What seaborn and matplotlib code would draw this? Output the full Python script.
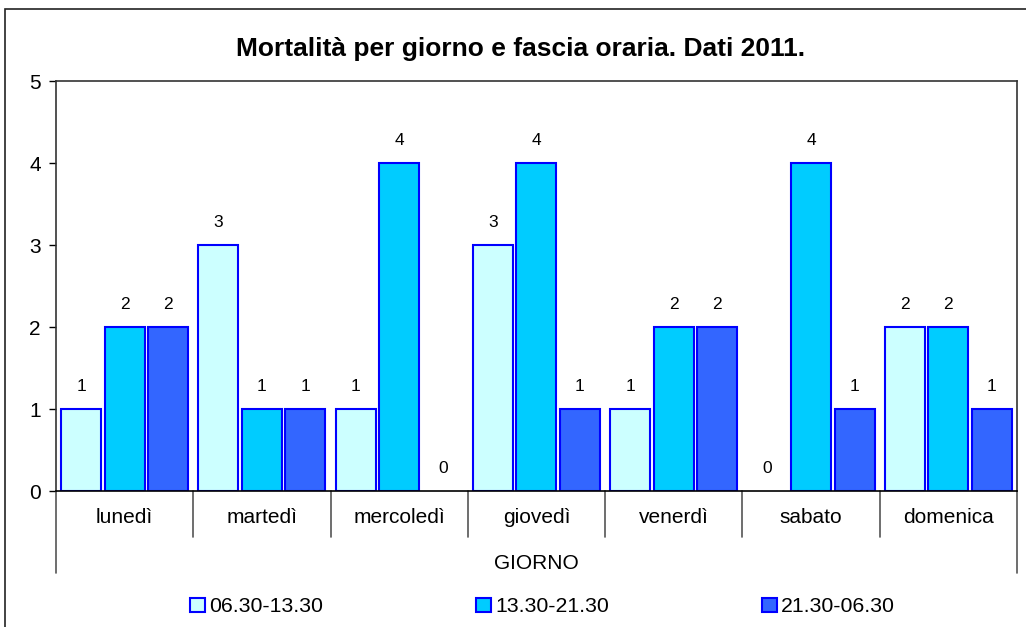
import matplotlib
matplotlib.use("Agg")
import matplotlib.pyplot as plt
import pandas as pd
import seaborn as sns
from matplotlib.patches import Rectangle

giorni = ["lunedì", "martedì", "mercoledì", "giovedì", "venerdì", "sabato", "domenica"]
fasce = ["06.30-13.30", "13.30-21.30", "21.30-06.30"]
mattina = [1, 3, 1, 3, 1, 0, 2]
pomeriggio = [2, 1, 4, 4, 2, 4, 2]
notte = [2, 1, 0, 1, 2, 1, 1]
colori = ["#CCFFFF", "#00CCFF", "#3366FF"]

df = pd.DataFrame({
    "giorno": giorni * 3,
    "fascia": [fasce[0]] * 7 + [fasce[1]] * 7 + [fasce[2]] * 7,
    "morti": mattina + pomeriggio + notte,
})

sns.set_style("white", {"text.color": "black", "axes.labelcolor": "black",
                        "xtick.color": "black", "ytick.color": "black"})
plt.rcParams["font.family"] = ["Liberation Sans", "DejaVu Sans"]

fig = plt.figure(figsize=(10.26, 6.27), dpi=100)
ax = fig.add_axes([0.0546, 0.2169, 0.9366, 0.6539])

sns.barplot(data=df, x="giorno", y="morti", hue="fascia", order=giorni,
            hue_order=fasce, palette=colori, edgecolor="#0000FF", linewidth=1.5,
            width=0.95, gap=0.08, saturation=1, ax=ax, legend=False)

# Excel non disegna le barre a zero
for bar in ax.patches:
    if bar.get_height() == 0:
        bar.set_linewidth(0)

for cont in ax.containers:
    ax.bar_label(cont, fmt="%d", padding=11, fontsize=12.5, color="black")

ax.set_xlim(-0.5, 6.5)
ax.set_ylim(0, 5)
ax.set_yticks(range(6))
ax.tick_params(axis="y", labelsize=15, length=5, width=1, direction="out", left=True, pad=6)
ax.tick_params(axis="x", labelsize=15, length=0, pad=12)
ax.set_ylabel("")
ax.set_xlabel("GIORNO", fontsize=15, labelpad=20)

for side in ["top", "right"]:
    ax.spines[side].set_visible(True)
for s in ax.spines.values():
    s.set_color("#333333")
    s.set_linewidth(1.2)
ax.spines["bottom"].set_color("black")

# separatori delle categorie sotto l'asse
for k in range(8):
    x = k / 7
    low = -0.2 if k in (0, 7) else -0.112
    ax.plot([x, x], [0, low], transform=ax.transAxes, color="#555555",
            lw=1.2, clip_on=False)

ax.set_title("Mortalità per giorno e fascia oraria. Dati 2011.",
             fontsize=19, fontweight="bold", pad=18, x=0.4839)

handles = [Rectangle((0, 0), 1, 1, facecolor=c, edgecolor="#0000FF", lw=1.5) for c in colori]
fig.legend(handles, fasce, loc="center", bbox_to_anchor=(0.529, 0.032), ncol=3,
           frameon=False, fontsize=15.3, handlelength=0.7, handleheight=0.7,
           handletextpad=0.2, columnspacing=7.2)

fig.patches.append(Rectangle((5 / 1026, -0.1), 1.2, 1 - 9 / 627 + 0.1,
                             transform=fig.transFigure, fill=False,
                             edgecolor="#222222", lw=1.2))

fig.savefig("out.png", dpi=100)
